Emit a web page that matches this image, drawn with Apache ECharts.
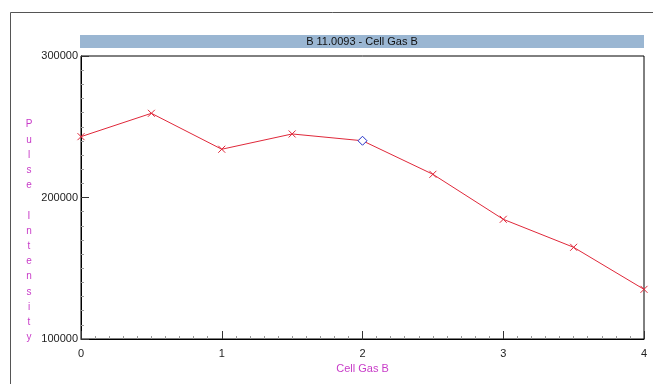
<!DOCTYPE html>
<html>
<head>
<meta charset="utf-8">
<script src="https://cdn.jsdelivr.net/npm/echarts@6/dist/echarts.min.js"></script>
<style>
  html, body { margin: 0; padding: 0; background: #fff; }
  #chart { width: 653px; height: 384px; }
</style>
</head>
<body>
<div id="chart"></div>
<script>
// Pulse intensity measured across cell gas B flow settings
const cellGas = [0, 0.5, 1, 1.5, 2, 2.5, 3, 3.5, 4];
const pulseIntensity = [243000, 259500, 234100, 244900, 240100, 216400, 184600, 164800, 135100];
const highlightIndex = 4;            // the selected reading, drawn as a diamond
const titleText = 'B 11.0093 - Cell Gas B';
const xName = 'Cell Gas B';
const yName = 'Pulse Intensity';

const magenta = '#c83cc8';
const lineRed = '#e0283a';
const crossPath = 'path://M0,0L10,10M10,0L0,10';

const chart = echarts.init(document.getElementById('chart'), null, { renderer: 'canvas' });

const seriesData = cellGas.map((x, i) => {
  const item = { value: [x, pulseIntensity[i]] };
  if (i === highlightIndex) {
    item.symbol = 'diamond';
    item.symbolSize = 9;
    item.itemStyle = { color: '#ffffff', borderColor: '#2030c8', borderWidth: 1 };
  }
  return item;
});

const font = 'Liberation Sans, Arial, sans-serif';

chart.setOption({
  animation: false,
  backgroundColor: '#ffffff',
  grid: {
    left: 81, right: 9, top: 56, bottom: 45,
    show: true, borderColor: '#000', borderWidth: 1, backgroundColor: '#fff'
  },
  xAxis: {
    type: 'value', min: 0, max: 4, interval: 1,
    axisLine: { show: true, lineStyle: { color: '#000', width: 1 } },
    axisTick: { show: true, inside: true, length: 8, lineStyle: { color: '#333' } },
    minorTick: { show: true, splitNumber: 10, length: 3, lineStyle: { color: '#999' } },
    splitLine: { show: false },
    axisLabel: { color: '#222', fontFamily: font, fontSize: 11, margin: 9,
                 formatter: v => String(v) },
    name: xName, nameLocation: 'middle', nameGap: 24,
    nameTextStyle: { color: magenta, fontFamily: font, fontSize: 11 }
  },
  yAxis: {
    type: 'value', min: 100000, max: 300000, interval: 100000,
    axisLine: { show: true, lineStyle: { color: '#000', width: 1 } },
    axisTick: { show: true, inside: true, length: 8, lineStyle: { color: '#333' } },
    minorTick: { show: true, splitNumber: 10, length: 3, lineStyle: { color: '#999' } },
    splitLine: { show: false },
    axisLabel: { color: '#222', fontFamily: font, fontSize: 11, margin: 3,
                 formatter: v => String(v) }
  },
  graphic: [
    {
      type: 'rect', silent: true, z: -1,
      shape: { x: 10.5, y: 12.5, width: 700, height: 400 },
      style: { fill: null, stroke: '#555', lineWidth: 1 }
    },
    {
      type: 'rect', silent: true,
      shape: { x: 80, y: 35, width: 564, height: 13 },
      style: { fill: '#9ab6d2' }
    },
    {
      type: 'text', silent: true,
      x: 362, y: 41.5,
      style: {
        text: titleText, fill: '#111', font: '11px ' + font,
        textAlign: 'center', textVerticalAlign: 'middle'
      }
    },
    {
      type: 'text', silent: true,
      x: 29, y: 117,
      style: {
        text: yName.split('').join('\n'),
        fill: magenta, font: '10px ' + font,
        lineHeight: 15.2, textAlign: 'center', textVerticalAlign: 'top'
      }
    }
  ],
  series: [{
    type: 'line',
    data: seriesData,
    symbol: crossPath,
    symbolSize: 7,
    showAllSymbol: true,
    lineStyle: { color: lineRed, width: 1 },
    itemStyle: { color: 'rgba(0,0,0,0)', borderColor: lineRed, borderWidth: 1 }
  }]
});
</script>
</body>
</html>
